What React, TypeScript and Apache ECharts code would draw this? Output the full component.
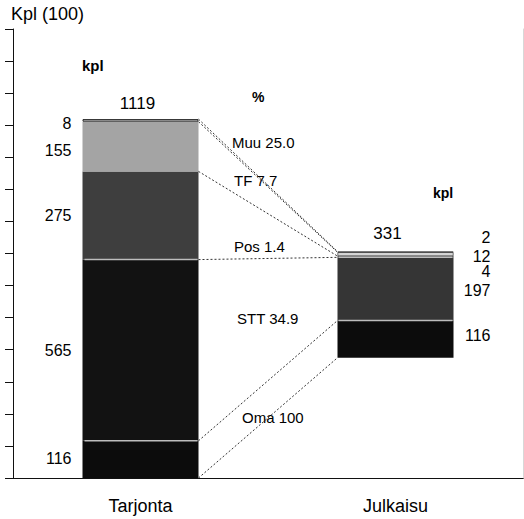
import React, { useEffect, useRef } from "react";
import * as echarts from "echarts";

const categories = ["Tarjonta", "Julkaisu"];
// segments from bottom to top
const sourceNames = ["Oma", "STT", "Pos", "TF", "Muu"];
const tarjonta = [116, 565, 275, 155, 8];
const julkaisu = [116, 197, 4, 12, 2];
const julkaisuBase = 375;
const totals = [1119, 331];
const pctLabels = ["100", "34.9", "1.4", "7.7", "25.0"];
const yMax = 1400;
const yInterval = 100;

const FONT = "'Liberation Sans', Arial, Helvetica, sans-serif";
const BAR_W = 116;

const leftColors = ["#0c0c0c", "#121212", "#3e3e3e", "#a4a4a4", "#d0d0d0"];
const rightColors = ["#0c0c0c", "#353535", "#a0a0a0", "#d6d6d6", "#f2f2f2"];
const leftLabelDy = [-1, 0, 0, 4, 3];
const rightLabelDy = [-4, 2, 15, 2, -14];

export default function App() {
  const ref = useRef<HTMLDivElement>(null);
  useEffect(() => {
    if (!ref.current) return;
    const chart = echarts.init(ref.current, null, { renderer: "svg" });

    const leftCum = [0];
    tarjonta.forEach((v) => leftCum.push(leftCum[leftCum.length - 1] + v));
    const rightCum = [julkaisuBase];
    julkaisu.forEach((v) => rightCum.push(rightCum[rightCum.length - 1] + v));
    const linkData = leftCum.map((l, i) => [0, l, rightCum[i], i === 1 || i === 2 ? 1 : 0]);

    const segSeries = sourceNames.map((name, si) => ({
      name,
      type: "bar",
      stack: "a",
      barWidth: BAR_W,
      silent: true,
      data: [
        {
          value: tarjonta[si],
          itemStyle: {
            color: leftColors[si],
            borderColor: si === 4 ? "#222" : leftColors[si],
            borderWidth: si === 4 ? 1 : 0,
          },
          label: {
            show: true,
            position: "left",
            distance: 11,
            offset: [0, leftLabelDy[si]],
            formatter: String(tarjonta[si]),
            color: "#000",
            fontSize: 16,
            fontFamily: FONT,
          },
        },
        {
          value: julkaisu[si],
          itemStyle: {
            color: rightColors[si],
            borderColor: si >= 2 ? "#222" : rightColors[si],
            borderWidth: si >= 2 ? 0.6 : 0,
          },
          label: {
            show: true,
            position: ["100%", "50%"],
            align: "right",
            verticalAlign: "middle",
            offset: [37, rightLabelDy[si]],
            formatter: String(julkaisu[si]),
            color: "#000",
            fontSize: 16,
            fontFamily: FONT,
          },
        },
      ],
    }));

    const textStyle = (size: number, weight: any = "normal") => ({
      fill: "#000",
      fontSize: size,
      fontFamily: FONT,
      fontWeight: weight,
      verticalAlign: "middle",
    });
    const midPos = [
      [242, 417],
      [237, 318],
      [234, 246],
      [234, 180],
      [232, 142],
    ];

    chart.setOption({
      animation: false,
      grid: { left: 13, right: 1, top: 29, bottom: 41 },
      xAxis: [
        {
          type: "category",
          data: categories,
          axisLine: { lineStyle: { color: "#111", width: 1 } },
          axisTick: { alignWithLabel: true, length: 8, lineStyle: { color: "#111" } },
          axisLabel: { color: "#000", fontSize: 18, fontFamily: FONT, margin: 19 },
        },
        {
          type: "category",
          data: categories,
          position: "top",
          axisLine: { show: true, lineStyle: { color: "#111", width: 1 } },
          axisTick: { show: false },
          axisLabel: { show: false },
        },
      ],
      yAxis: [
        {
          type: "value",
          min: 0,
          max: yMax,
          interval: yInterval,
          axisLine: { show: true, lineStyle: { color: "#111", width: 1 } },
          axisTick: { show: true, length: 8, lineStyle: { color: "#111" } },
          axisLabel: { show: false },
          splitLine: { show: false },
        },
        {
          type: "value",
          min: 0,
          max: yMax,
          interval: yInterval,
          position: "right",
          axisLine: { show: true, lineStyle: { color: "#d8d8d8", width: 1 } },
          axisTick: { show: false },
          axisLabel: { show: false },
          splitLine: { show: false },
        },
      ],
      series: [
        {
          name: "base",
          type: "bar",
          stack: "a",
          barWidth: BAR_W,
          silent: true,
          itemStyle: { color: "transparent" },
          data: [0, julkaisuBase],
        },
        ...segSeries,
        {
          name: "total",
          type: "bar",
          stack: "a",
          barWidth: BAR_W,
          silent: true,
          data: [
            { value: 0, label: { offset: [-3, 0] } },
            { value: 0, label: { offset: [-8, -3] } },
          ],
          label: {
            show: true,
            position: "top",
            distance: 7,
            color: "#000",
            fontSize: 17,
            fontFamily: FONT,
            formatter: (p: any) => String(totals[p.dataIndex]),
          },
        },
        {
          name: "links",
          type: "custom",
          silent: true,
          z: 5,
          encode: { x: 0, y: 1 },
          data: linkData,
          renderItem: (params: any, api: any) => {
            const l = api.value(1);
            const r = api.value(2);
            const sep = api.value(3);
            const p1 = api.coord([0, l]);
            const p2 = api.coord([1, r]);
            const hw = BAR_W / 2;
            const children: any[] = [
              {
                type: "line",
                shape: { x1: p1[0] + hw, y1: p1[1], x2: p2[0] - hw, y2: p2[1] },
                style: { stroke: "#333", lineWidth: 1, lineDash: [2, 2] },
              },
            ];
            if (sep) {
              children.push({
                type: "line",
                shape: { x1: p1[0] - hw + 2, y1: p1[1], x2: p1[0] + hw - 1, y2: p1[1] },
                style: { stroke: "#bdbdbd", lineWidth: 1.5 },
              });
              children.push({
                type: "line",
                shape: { x1: p2[0] - hw + 1, y1: p2[1], x2: p2[0] + hw - 1, y2: p2[1] },
                style: { stroke: "#bdbdbd", lineWidth: 1.5 },
              });
            }
            return { type: "group", children };
          },
        },
      ],
      graphic: [
        { type: "text", x: 11, y: 14, style: { text: "Kpl (100)", ...textStyle(18) } },
        { type: "text", x: 82, y: 65, style: { text: "kpl", ...textStyle(15, "bold") } },
        { type: "text", x: 252, y: 97, style: { text: "%", ...textStyle(14, "bold") } },
        { type: "text", x: 433, y: 193, style: { text: "kpl", ...textStyle(14, "bold") } },
        ...sourceNames.map((n, i) => ({
          type: "text",
          x: midPos[i][0],
          y: midPos[i][1],
          style: { text: `${n} ${pctLabels[i]}`, ...textStyle(15) },
        })),
      ],
    });
    return () => chart.dispose();
  }, []);
  return (
    <div
      ref={ref}
      style={{ position: "fixed", left: 0, top: 0, width: 524, height: 519, background: "#fff" }}
    />
  );
}
